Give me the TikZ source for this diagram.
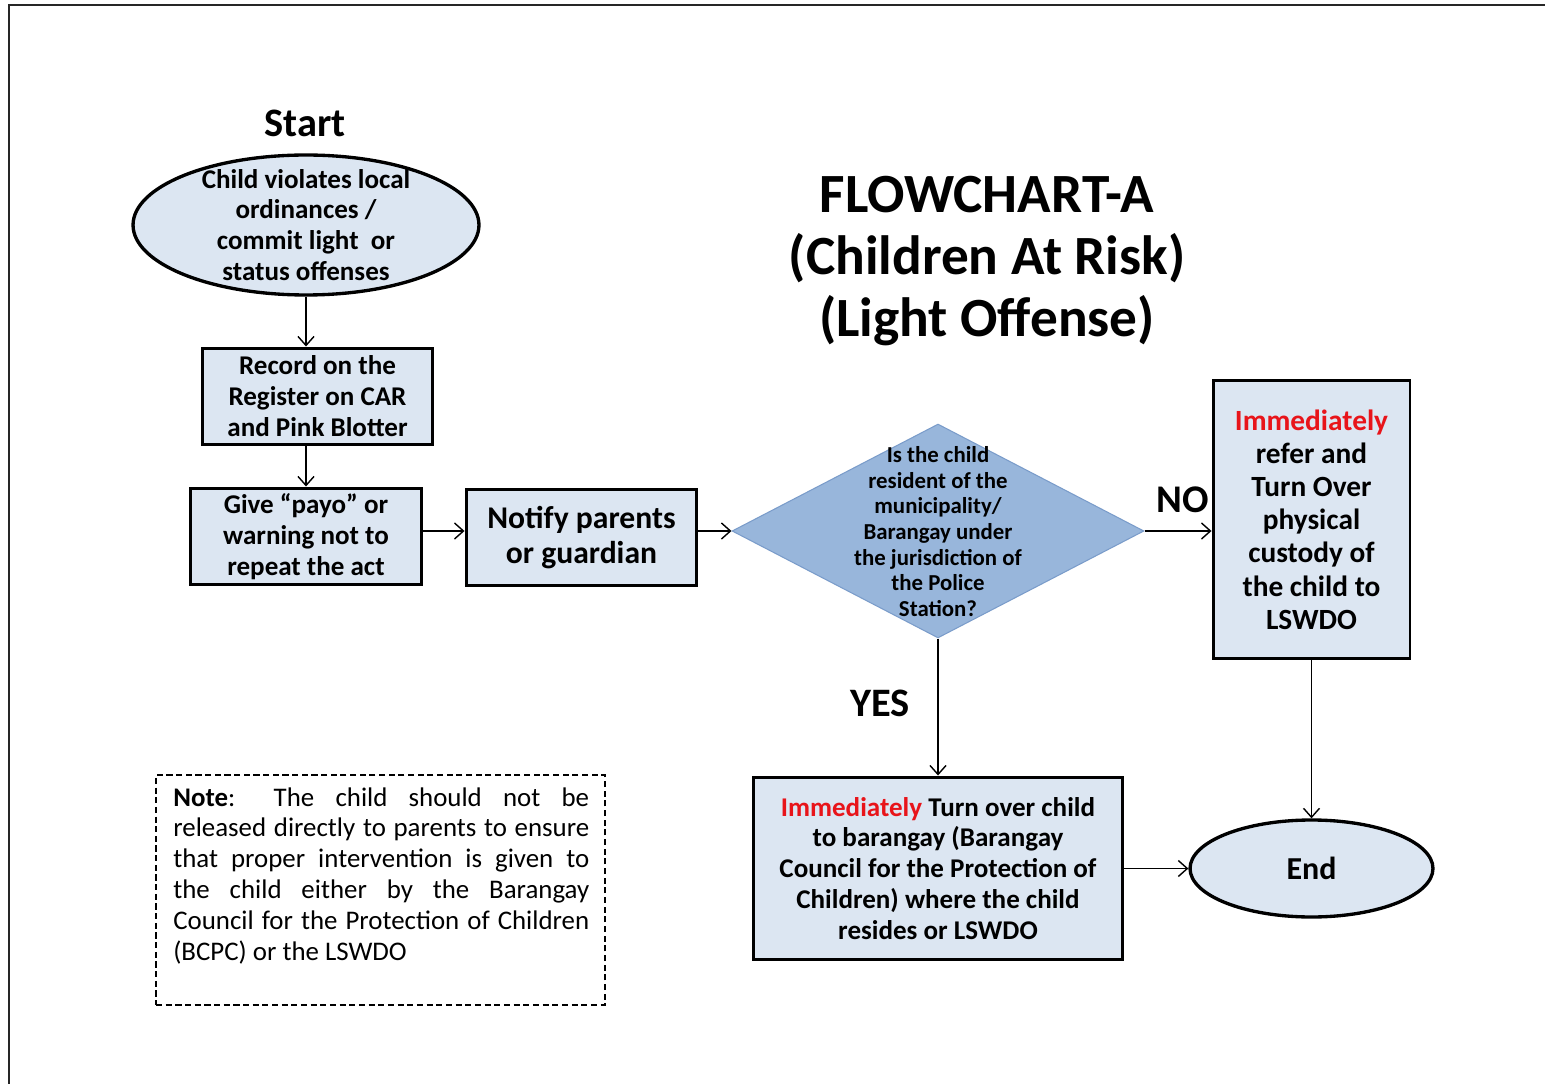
\documentclass[tikz,border=0pt]{standalone}
\usepackage{fontspec}
\setmainfont{Carlito}
\usetikzlibrary{shapes.geometric,arrows.meta}

\definecolor{boxblue}{RGB}{220,230,242}
\definecolor{decblue}{RGB}{152,182,219}
\definecolor{decedge}{RGB}{122,156,202}
\definecolor{hotred}{RGB}{232,20,26}

\tikzset{
  stepbox/.style={draw=black, line width=1.7pt, fill=boxblue, inner sep=0pt, align=center},
  terminal/.style={ellipse, draw=black, line width=1.9pt, fill=boxblue, inner sep=0pt},
  decision/.style={diamond, draw=decedge, line width=0.6pt, fill=decblue, inner sep=0pt},
  flow/.style={-{Straight Barb[length=1.8mm,width=3.2mm]}, line width=0.8pt},
  lbl/.style={font=\bfseries\fontsize{23}{27}\selectfont},
  body/.style={font=\bfseries\fontsize{15.4}{17.6}\selectfont, align=center},
}

\begin{document}
\begin{tikzpicture}[x=0.02cm,y=-0.02cm]
\useasboundingbox (0,0) rectangle (1545,1084);
\fill[white] (0,0) rectangle (1545,1084);

% page frame
\draw[line width=1.2pt, black!85] (9,1084) -- (9,5) -- (1545,5);

\node[font=\bfseries\fontsize{31.5}{35.3}\selectfont, align=center] (title) at (987,261) {FLOWCHART-A\\(Children At Risk)\\(Light Offense)};

\node[lbl] (startLbl) at (305,123) {Start};
\node[terminal, minimum width=6.92cm, minimum height=2.8cm] (start) at (306,225) {};
\node[body, inner sep=0pt] (startText) at (start.center) {Child violates local\\ordinances /\\commit light~ or\\status offenses};

\node[stepbox, body, minimum width=4.62cm, minimum height=1.94cm] (rec) at (317.5,396.5) {Record on the\\Register on CAR\\and Pink Blotter};
\node[stepbox, body, minimum width=4.64cm, minimum height=1.94cm] (give) at (306,536.5) {Give “payo” or\\warning not to\\repeat the act};
\node[stepbox, minimum width=4.62cm, minimum height=1.94cm, font=\bfseries\fontsize{18}{20.4}\selectfont] (notify) at (581.5,537.5) {Notify parents\\or guardian};

\node[decision, minimum width=8.24cm, minimum height=4.28cm] (dec) at (938,531) {};
\node[align=center, inner sep=0pt, font=\bfseries\fontsize{13}{14.6}\selectfont] (decText) at (938,531.5) {Is the child\\resident of the\\municipality/\\Barangay under\\the jurisdiction of\\the Police\\Station?};

\node[stepbox, minimum width=3.94cm, minimum height=5.58cm, font=\bfseries\fontsize{16.7}{18.9}\selectfont] (refer) at (1311.5,519.5) {\textcolor{hotred}{Immediately}\\refer and\\Turn Over\\physical\\custody of\\the child to\\LSWDO};

\node[stepbox, body, minimum width=7.4cm, minimum height=3.66cm] (turn) at (938,868.5) {\textcolor{hotred}{Immediately} Turn over child\\to barangay (Barangay\\Council for the Protection of\\Children) where the child\\resides or LSWDO};

\node[terminal, minimum width=4.86cm, minimum height=1.94cm, font=\bfseries\fontsize{18.2}{21}\selectfont] (endn) at (1311.5,868.5) {End};

\node[lbl, font=\bfseries\fontsize{22.3}{26}\selectfont] (noLbl) at (1183,500) {NO};
\node[lbl] (yesLbl) at (880,703) {YES};

% note
\node[draw, line width=0.8pt, dash pattern=on 3.5pt off 2pt, minimum width=8.98cm, minimum height=4.6cm, inner sep=0pt] (note) at (380.5,890) {};
\node[anchor=north west, text width=8.32cm, align=justify, inner sep=0pt, font=\fontsize{15.3}{17.6}\selectfont] (noteText) at (173,787) {\textbf{Note}: The child should not be\linebreak released directly to parents to ensure\linebreak that proper intervention is given to\linebreak the child either by the Barangay\linebreak Council for the Protection of Children\linebreak (BCPC) or the LSWDO};

\draw[flow] (start.south) -- (start.south |- rec.north);
\draw[flow] (give.north |- rec.south) -- (give.north);
\draw[flow] (give.east |- dec.west) -- (notify.west |- dec.west);
\draw[flow] (notify.east |- dec.west) -- (dec.west);
\draw[flow] (dec.east) -- (dec.east -| refer.west);
\draw[flow] (dec.south) -- (turn.north);
\draw[flow] (refer.south) -- (endn.north);
\draw[flow] (turn.east) -- (endn.west);
\end{tikzpicture}
\end{document}
